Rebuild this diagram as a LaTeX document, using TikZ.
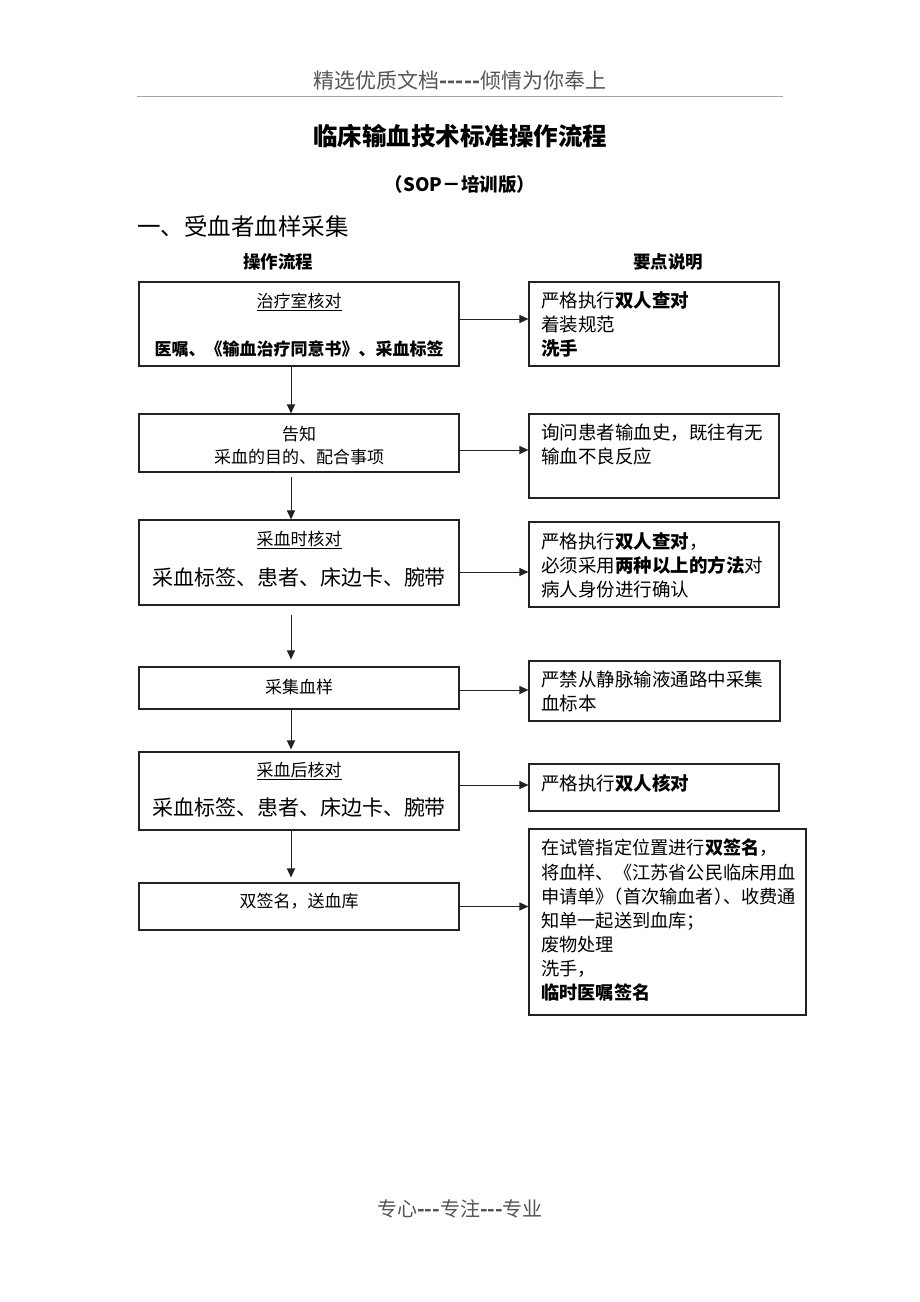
\documentclass[tikz,border=0pt]{standalone}
\usepackage{fontspec}
\setmainfont{Noto Sans CJK SC}
\usetikzlibrary{arrows.meta}
\definecolor{hdr}{HTML}{555555}
\definecolor{edge}{HTML}{222222}
\begin{document}
\begin{tikzpicture}[x=1pt,y=-1pt,
  lbox/.style={draw=edge,line width=1.1pt,minimum width=320pt,inner sep=0pt},
  rbox/.style={draw=edge,line width=1.1pt,minimum width=250pt,inner sep=0pt},
  ltext/.style={font=\fontsize{17}{20}\selectfont,inner sep=0pt},
  lbig/.style={font=\fontsize{21}{24}\selectfont,inner sep=0pt},
  rtext/.style={font=\fontsize{18.5}{24}\selectfont,inner sep=0pt,anchor=north west,align=left},
  arr/.style={-{Triangle[length=9pt,width=8pt]},line width=1pt,draw=edge}]
\useasboundingbox (0,0) rectangle (920,1302);
% header
\node[font=\fontsize{21}{24}\selectfont,text=hdr] (hd) at (460,80) {精选优质文档{\bfseries{-}{-}{-}{-}{-}}倾情为你奉上};
\coordinate (hl1) at (137,96);
\coordinate (hr1) at (783,96);
\draw[gray!70,line width=0.8pt] (hl1) -- (hr1);
\node[font=\fontsize{24.5}{28}\selectfont\bfseries] (title) at (460,136) {临床输血技术标准操作流程};
\node[font=\fontsize{18.5}{22}\selectfont\bfseries] (sub) at (460,185) {（SOP－培训版）};
\node[font=\fontsize{23.5}{26}\selectfont,anchor=west,inner sep=0pt] (sec) at (137,227) {一、受血者血样采集};
\node[font=\fontsize{17.5}{20}\selectfont\bfseries] (colL) at (278,262) {操作流程};
\node[font=\fontsize{17.5}{20}\selectfont\bfseries] (colR) at (668,262) {要点说明};
% left boxes
\node[lbox,minimum height=84pt] (b1) at (299,324) {};
\node[lbox,minimum height=58pt] (b2) at (299,443) {};
\node[lbox,minimum height=85pt] (b3) at (299,562.5) {};
\node[lbox,minimum height=42pt] (b4) at (299,688) {};
\node[lbox,minimum height=78pt] (b5) at (299,791) {};
\node[lbox,minimum height=47pt] (b6) at (299,906.5) {};
% left texts
\node[ltext] (t1a) at (299,302) {\underline{治疗室核对}};
\node[ltext,font=\fontsize{17}{20}\selectfont\bfseries] (t1b) at (299,349) {医嘱、《输血治疗同意书》、采血标签};
\node[ltext] (t2a) at (299,434) {告知};
\node[ltext] (t2b) at (299,457) {采血的目的、配合事项};
\node[ltext] (t3a) at (299,540) {\underline{采血时核对}};
\node[lbig] (t3b) at (299,577) {采血标签、患者、床边卡、腕带};
\node[ltext] (t4) at (299,687) {采集血样};
\node[ltext] (t5a) at (299,771) {\underline{采血后核对}};
\node[lbig] (t5b) at (299,807) {采血标签、患者、床边卡、腕带};
\node[ltext] (t6) at (299,901) {双签名，送血库};
% right boxes
\node[rbox,minimum height=84pt] (r1) at (654,324) {};
\node[rbox,minimum height=84pt] (r2) at (654,456) {};
\node[rbox,minimum height=85pt] (r3) at (654,564.5) {};
\node[rbox,minimum width=251pt,minimum height=60pt] (r4) at (654.5,691) {};
\node[rbox,minimum height=47pt] (r5) at (654,787.5) {};
\node[rbox,minimum width=277pt,minimum height=186pt] (r6) at (667.5,922) {};
% right texts
\node[rtext] (s1) at (541,291) {严格执行\textbf{双人查对}\\着装规范\\\textbf{洗手}};
\node[rtext] (s2) at (541,424) {询问患者输血史，既往有无\\输血不良反应};
\node[rtext] (s3) at (541,532) {严格执行\textbf{双人查对}，\\必须采用\textbf{两种以上的方法}对\\病人身份进行确认};
\node[rtext] (s4) at (541,671) {严禁从静脉输液通路中采集\\血标本};
\node[rtext] (s5) at (541,774) {严格执行\textbf{双人核对}};
\node[rtext,font=\fontsize{18.2}{24.1}\selectfont] (s6) at (541,839) {在试管指定位置进行\textbf{双签名}，\\将血样、《江苏省公民临床用血\\申请单》\kern-0.5em（首次输血者）\kern-0.5em、收费通\\知单一起送到血库；\\废物处理\\洗手，\\\textbf{临时医嘱签名}};
% vertical arrows
\draw[arr] ([xshift=-8pt]b1.south) -- ([xshift=-8pt]b2.north);
\draw[arr] ([xshift=-8pt,yshift=-4pt]b2.south) -- ([xshift=-8pt]b3.north);
\draw[arr] ([xshift=-8pt,yshift=-9pt]b3.south) -- ([xshift=-8pt,yshift=7pt]b4.north);
\draw[arr] ([xshift=-8pt]b4.south) -- ([xshift=-8pt,yshift=2pt]b5.north);
\draw[arr] ([xshift=-8pt]b5.south) -- ([xshift=-8pt,yshift=5pt]b6.north);
% horizontal arrows
\draw[arr] ([yshift=5pt]b1.east) -- ([yshift=5pt]b1.east -| r1.west);
\draw[arr] ([yshift=-7pt]b2.east) -- ([yshift=-7pt]b2.east -| r2.west);
\draw[arr] ([yshift=-9.5pt]b3.east) -- ([yshift=-9.5pt]b3.east -| r3.west);
\draw[arr] ([yshift=-2pt]b4.east) -- ([yshift=-2pt]b4.east -| r4.west);
\draw[arr] ([yshift=6pt]b5.east) -- ([yshift=6pt]b5.east -| r5.west);
\draw[arr] (b6.east) -- (b6.east -| r6.west);
% footer
\node[font=\fontsize{20}{24}\selectfont,text=hdr] (ft) at (460,1209) {专心{\bfseries{-}{-}{-}}专注{\bfseries{-}{-}{-}}专业};
\end{tikzpicture}
\end{document}
